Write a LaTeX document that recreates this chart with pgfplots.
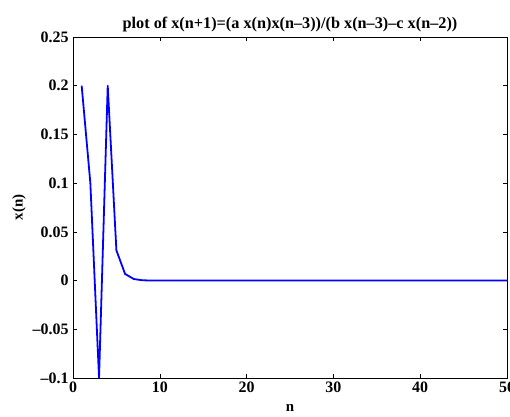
\documentclass[border=0pt]{standalone}
\usepackage{pgfplots}
\pgfplotsset{compat=1.18}
\usepackage{fontspec}
\setmainfont{Liberation Serif}
\usetikzlibrary{calc}
\begin{document}
\begin{tikzpicture}
\begin{axis}[
  scale only axis,
  width=434bp, height=341bp,
  xmin=0, xmax=50, ymin=-0.1, ymax=0.25,
  xtick={0,10,20,30,40,50},
  ytick={-0.1,-0.05,0,0.05,0.1,0.15,0.2,0.25},
  yticklabels={--0.1,--0.05,0,0.05,0.1,0.15,0.2,0.25},
  xticklabels={0,10,20,30,40,50},
  tick align=inside,
  major tick length=4bp,
  axis line style={line width=0.8pt},
  tick style={line width=0.6pt, black},
  tick label style={font=\fontsize{16}{18}\selectfont\bfseries},
  xticklabel style={yshift=0bp},
  yticklabel style={xshift=-1bp},
  title={plot of x(n+1)=(a x(n)x(n--3))/(b x(n--3)--c x(n--2))},
  title style={font=\fontsize{16.3}{18}\selectfont\bfseries, yshift=-4bp},
  xlabel={n}, ylabel={x(n)},
  label style={font=\fontsize{15}{18}\selectfont\bfseries},
  xlabel style={yshift=-5bp},
  ylabel style={yshift=0bp},
  clip=true,
]
\addplot[color=blue, line width=1.8pt, line join=round] coordinates {
(1,0.2) (2,0.1) (3,-0.1) (4,0.2) (5,0.031) (6,0.0068) (7,0.0016) (8,0.0003)
(9,0.00005) (10,0.00001) (11,0) (12,0) (13,0) (14,0) (15,0) (16,0) (17,0) (18,0)
(19,0) (20,0) (21,0) (22,0) (23,0) (24,0) (25,0) (26,0) (27,0) (28,0) (29,0) (30,0)
(31,0) (32,0) (33,0) (34,0) (35,0) (36,0) (37,0) (38,0) (39,0) (40,0) (41,0) (42,0)
(43,0) (44,0) (45,0) (46,0) (47,0) (48,0) (49,0) (50,0)
};
\end{axis}
\pgfresetboundingbox
\useasboundingbox ($(current axis.south west)+(-73bp,-39bp)$) rectangle ($(current axis.north east)+(3bp,37bp)$);
\end{tikzpicture}
\end{document}
